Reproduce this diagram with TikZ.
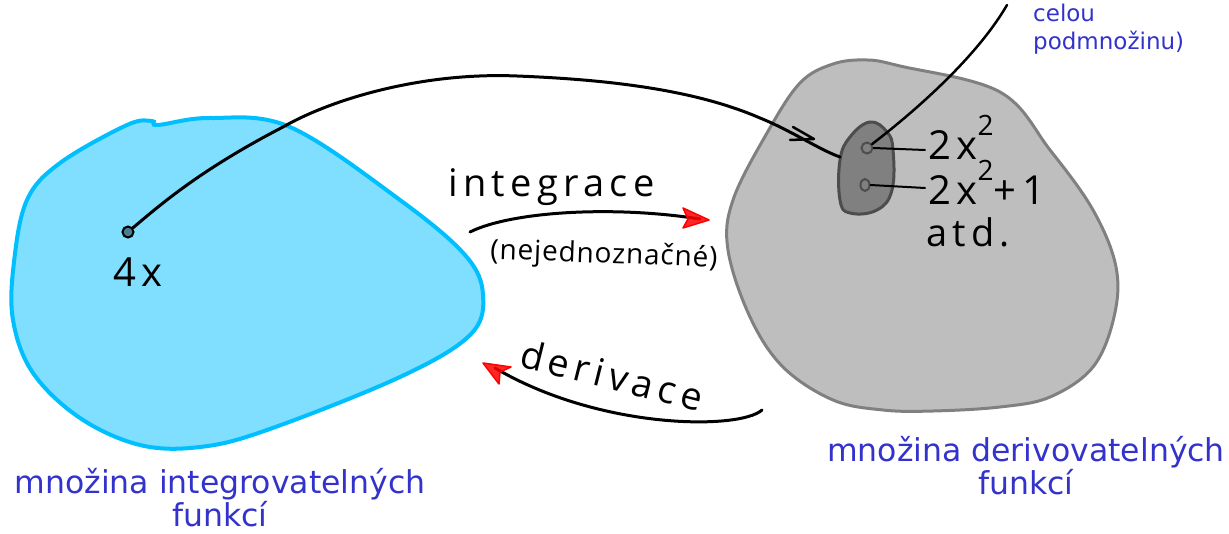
\documentclass[tikz,border=0pt]{standalone}
\usepackage{fontspec}
\usetikzlibrary{shapes.geometric}
\setmainfont{DejaVu Sans}
\newfontfamily\handfont{Open Sans}[LetterSpace=14]
\newfontfamily\handtight{Open Sans}[LetterSpace=3]
\definecolor{setBlueFill}{HTML}{80DFFF}
\definecolor{setBlueEdge}{HTML}{00BFFF}
\definecolor{setGreyFill}{HTML}{BEBEBE}
\definecolor{setGreyEdge}{HTML}{808080}
\definecolor{subFill}{HTML}{808080}
\definecolor{subEdge}{HTML}{4D4D4D}
\definecolor{captionBlue}{HTML}{3333CC}
\definecolor{dotFill}{HTML}{4A7F90}
\tikzset{
  ink/.style={line width=3pt, line cap=round, line join=round},
  thinink/.style={line width=2pt, line cap=round},
  hand/.style={font=\handfont\fontsize{#1}{#1}\selectfont, inner sep=0pt},
  handnarrow/.style={font=\handtight\fontsize{#1}{#1}\selectfont, inner sep=0pt},
  caption/.style={text=captionBlue, font=\fontsize{31.5}{33}\selectfont, align=center, inner sep=0pt},
  note/.style={text=captionBlue, font=\fontsize{23}{28}\selectfont, inner sep=0pt, anchor=base west},
  redtip/.style={fill=red, fill opacity=0.85, draw=red, line width=1.5pt, line join=round},
  dot/.style={circle, minimum size=11pt, inner sep=0pt, line width=2pt},
}
\begin{document}
\begin{tikzpicture}[x=1pt, y=-1pt]
\useasboundingbox (0,0) rectangle (1229,534);

% the two sets
\draw[fill=setBlueFill, draw=setBlueEdge, line width=4pt]
  plot[smooth cycle, tension=0.6] coordinates {
    (14,262) (27,200) (60,163) (127,125) (152,121) (158,125) (210,118) (290,127)
    (400,200) (465,255) (483,295) (470,335) (400,377) (267,430) (200,447)
    (140,445) (80,418) (33,373) (13,320)};
\draw[fill=setGreyFill, draw=setGreyEdge, line width=3pt]
  plot[smooth cycle, tension=0.6] coordinates {
    (833,64) (867,60) (900,66) (1000,92) (1050,150) (1093,210) (1116,267)
    (1114,317) (1093,367) (1050,397) (1000,407) (933,411) (883,410) (833,400)
    (783,367) (750,317) (728,250) (733,200) (767,133) (800,83)};
% the subset of antiderivatives
\draw[fill=subFill, draw=subEdge, line width=3pt]
  plot[smooth cycle, tension=0.7] coordinates {
    (870,122) (887,132) (893,150) (892,190) (877,210) (850,213) (840,200)
    (840,160) (850,137)};

% points
\node[dot, draw=black, fill=dotFill] (p4x) at (128,232) {};
\node[dot, draw=subEdge, fill=subFill] (q1) at (867,148) {};
\node[ellipse, draw=subEdge, fill=subFill, line width=2pt, inner sep=0pt,
      minimum width=9pt, minimum height=12pt] (q2) at (865,185) {};

% labels
\node[hand=40] (l4x) at (138,272) {4x};
\node[hand=40, anchor=base west] (f1) at (928,160) {2x\raisebox{0.62em}{\fontsize{28}{28}\selectfont 2}};
\node[hand=40, anchor=base west] (f2) at (928,205) {2x\raisebox{0.62em}{\fontsize{28}{28}\selectfont 2}+1};
\node[hand=38, anchor=base west] (etc) at (926,247) {atd.};
\node[hand=38, anchor=base west] (intl) at (448,197) {integrace};
\node[handnarrow=28, anchor=base west, rotate=-2] (amb) at (490,259) {(nejednoznačné)};
\node[hand=38, rotate=-14] (derl) at (612,375) {derivace};

% captions (anchor base = baseline of the last line)
\node[caption, anchor=base] (capI) at (220,526) {množina integrovatelných\\funkcí};
\node[caption, anchor=base] (capD) at (1026,494) {množina derivovatelných\\funkcí};
\node[note] (nt1) at (1033,22) {celou};
\node[note] (nt2) at (1033,50) {podmnožinu)};

% 4x is mapped onto the whole subset
\coordinate (subL) at (840,157);
\draw[ink] (p4x) .. controls (160,205) and (200,170) .. (283,127)
  .. controls (330,100) and (420,72) .. (517,76)
  .. controls (620,80) and (700,92) .. (760,118)
  .. controls (790,130) and (820,150) .. (subL);
\draw[ink, line width=2.5pt] (793,127) -- (814,139) -- (790,140);

% pointer from the note to the subset
\coordinate (noteEnd) at (1007,5);
\draw[ink, line width=2.5pt] (q1) .. controls (910,115) and (975,60) .. (noteEnd);

% leader lines to the formulas
\draw[thinink] (q1.east) -- (925,150);
\draw[thinink] (q2.east) -- (925,188);

% integration arrow
\coordinate (iS) at (470,232);
\coordinate (iE) at (700,219);
\draw[ink] (iS) .. controls (510,212) and (610,205) .. (iE);
\draw[redtip] (709,220) -- (683,208) -- (688,219) -- (683,228) -- cycle;

% differentiation arrow
\coordinate (dS) at (762,410);
\coordinate (dE) at (495,368);
\draw[ink] (dS) .. controls (740,430) and (600,430) .. (dE);
\draw[redtip] (483,363) -- (511,367) -- (500,372) -- (499,384) -- cycle;
\end{tikzpicture}
\end{document}
